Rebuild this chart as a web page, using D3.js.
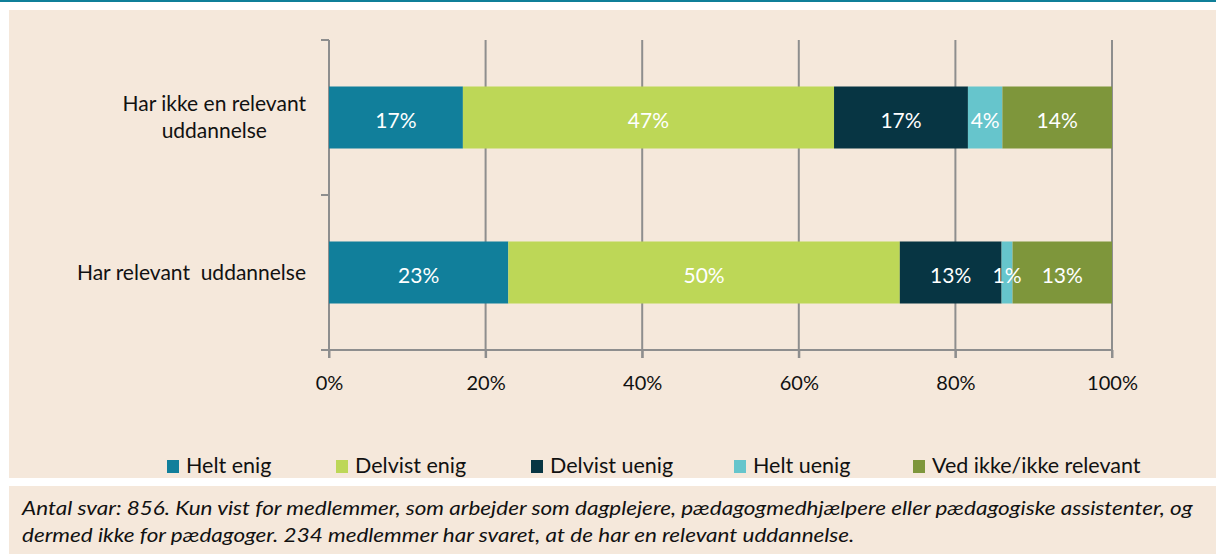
<!DOCTYPE html>
<meta charset="utf-8">
<style>
body { margin: 0; background: #fff; }
svg { display: block; font-family: Lato, "Open Sans", sans-serif; }
</style>
<svg width="1216" height="554"></svg>
<script src="https://d3js.org/d3.v7.min.js"></script>
<script>

var categories = [["Har ikke en relevant", "uddannelse"], ["Har relevant  uddannelse"]];
var series = ["Helt enig", "Delvist enig", "Delvist uenig", "Helt uenig", "Ved ikke/ikke relevant"];
var colors = ["#117f9b", "#bdd757", "#073543", "#66c5cc", "#7e963b"];
// percent per category, in series order
var values = [
  [17.1, 47.4, 17.1, 4.4, 14.0],
  [22.9, 50.0, 13.0, 1.4, 12.7]
];
var ticks = [0, 20, 40, 60, 80, 100];
var note = [
  "Antal svar: 856. Kun vist for medlemmer, som arbejder som dagplejere, pædagogmedhjælpere eller pædagogiske assistenter, og",
  "dermed ikke for pædagoger. 234 medlemmer har svaret, at de har en relevant uddannelse."
];

var svg = d3.select("svg"),
    width = +svg.attr("width"),
    height = +svg.attr("height");

var beige = "#f5e8db";
var ink = "#111";

// frame
svg.append("rect").attr("x", 0).attr("y", 0).attr("width", width).attr("height", 2).attr("fill", "#0f7f99");
svg.append("rect").attr("x", 9).attr("y", 10).attr("width", width - 9).attr("height", 468).attr("fill", beige);
svg.append("rect").attr("x", 9).attr("y", 486).attr("width", width - 9).attr("height", height - 486).attr("fill", beige);

var x = d3.scaleLinear().domain([0, 100]).range([329, 1112]);
var y = d3.scaleBand().domain(d3.range(categories.length)).range([40, 350]).paddingInner(0.6).paddingOuter(0.3);

var grey = "#8e8e8e";

// gridlines
svg.append("g").selectAll("line")
  .data(ticks.slice(1))
  .join("line")
    .attr("x1", d => x(d)).attr("x2", d => x(d))
    .attr("y1", 40).attr("y2", 358)
    .attr("stroke", grey).attr("stroke-width", 2);

// x axis
var xAxis = svg.append("g")
    .attr("transform", "translate(0,350)")
    .call(d3.axisBottom(x).tickValues(ticks).tickSize(8).tickSizeOuter(0).tickFormat(d => d + "%"));
xAxis.select(".domain").attr("d", "M321,0H" + x(100)).attr("stroke", grey).attr("stroke-width", 2);
xAxis.selectAll(".tick line").attr("stroke", grey).attr("stroke-width", 2);
xAxis.selectAll(".tick text").attr("dy", 0).attr("y", 40).attr("font-size", 20).attr("fill", ink).attr("font-family", "Lato");

// y axis
svg.append("line").attr("x1", x(0)).attr("x2", x(0)).attr("y1", 40).attr("y2", 358)
  .attr("stroke", grey).attr("stroke-width", 2);
svg.append("g").selectAll("line")
  .data([40, 195])
  .join("line")
    .attr("x1", 321).attr("x2", x(0))
    .attr("y1", d => d).attr("y2", d => d)
    .attr("stroke", grey).attr("stroke-width", 2);

// bars
values.forEach(function(row, i) {
  var acc = 0;
  var segs = row.map(function(v, k) { var s = { k: k, v: v, x0: acc, x1: acc + v }; acc += v; return s; });
  var g = svg.append("g");
  g.selectAll("rect")
    .data(segs)
    .join("rect")
      .attr("x", d => x(d.x0))
      .attr("width", d => x(d.x1) - x(d.x0))
      .attr("y", y(i))
      .attr("height", y.bandwidth())
      .attr("fill", d => colors[d.k]);
  g.selectAll("text")
    .data(segs)
    .join("text")
      .attr("x", d => (x(d.x0) + x(d.x1)) / 2)
      .attr("y", y(i) + y.bandwidth() / 2 + 10)
      .attr("text-anchor", "middle")
      .attr("font-size", 21)
      .attr("fill", "#fff")
      .text(d => Math.round(d.v) + "%");
});

// category labels
categories.forEach(function(lines, i) {
  var t = svg.append("text")
      .attr("font-size", 21)
      .attr("fill", ink)
      .attr("text-anchor", "middle")
      .style("white-space", "pre");
  var cy = y(i) + y.bandwidth() / 2;
  var lh = 27;
  t.selectAll("tspan")
    .data(lines)
    .join("tspan")
      .attr("y", (d, j) => cy + 7 + (j - (lines.length - 1) / 2) * lh)
      .text(d => d);
  var w = d3.max(t.selectAll("tspan").nodes(), n => n.getComputedTextLength());
  t.selectAll("tspan").attr("x", 306 - w / 2);
});

// legend
var legendX = [167, 336, 531, 734, 913];
var lg = svg.append("g").selectAll("g")
  .data(series)
  .join("g")
    .attr("transform", (d, i) => "translate(" + legendX[i] + ",460)");
lg.append("rect").attr("width", 12).attr("height", 13).attr("fill", (d, i) => colors[i]);
lg.append("text")
    .attr("x", 19).attr("y", 13)
    .attr("font-size", 21.5).attr("fill", ink).text(d => d);

// note
svg.append("g")
    .attr("transform", "translate(22,0) scale(1.125,1)")
  .selectAll("text")
  .data(note)
  .join("text")
    .attr("x", 0)
    .attr("y", (d, i) => 515 + i * 27)
    .attr("font-size", 20)
    .attr("font-style", "italic")
    .attr("fill", ink)
    .text(d => d);

</script>
